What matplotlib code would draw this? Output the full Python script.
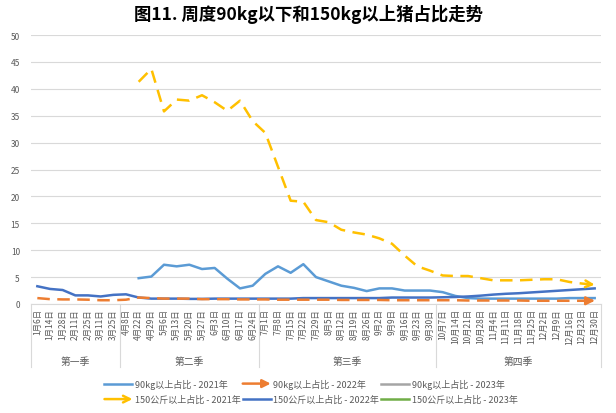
import numpy as np
import matplotlib
matplotlib.use("Agg")
import matplotlib.pyplot as plt
from matplotlib.lines import Line2D
from matplotlib.patches import FancyArrowPatch
from matplotlib.legend_handler import HandlerBase

plt.rcParams['font.family'] = ['Noto Sans CJK SC', 'DejaVu Sans']

# categories
dates = ['1月6日', '1月14日', '1月28日', '2月11日', '2月25日', '3月11日', '3月25日',
         '4月8日', '4月22日', '4月29日', '5月6日', '5月13日', '5月20日', '5月27日',
         '6月3日', '6月10日', '6月17日', '6月24日',
         '7月1日', '7月8日', '7月15日', '7月22日', '7月29日', '8月5日', '8月12日',
         '8月19日', '8月26日', '9月2日', '9月9日', '9月16日', '9月23日', '9月30日',
         '10月7日', '10月14日', '10月21日', '10月28日', '11月4日', '11月11日',
         '11月18日', '11月25日', '12月2日', '12月9日', '12月16日', '12月23日', '12月30日']
quarters = ['第一季', '第二季', '第三季', '第四季']
quarter_sizes = [7, 11, 14, 13]

nan = np.nan
# 90kg以上占比 - 2021年
w90_2021 = [nan, nan, nan, nan, nan, nan, nan, nan,
            4.8, 5.1, 7.3, 7.0, 7.3, 6.5, 6.7, 4.7, 2.9, 3.4,
            5.6, 7.0, 5.8, 7.4, 5.0, 4.2, 3.4, 3.0, 2.4, 2.9, 2.9, 2.5, 2.5, 2.5,
            2.2, 1.5, 1.1, 1.0, 1.0, 1.0, 1.0, 1.0, 1.0, 1.0, 1.1, 1.1, 1.1]
# 90kg以上占比 - 2022年
w90_2022 = [1.1, 0.9, 0.85, 0.85, 0.8, 0.7, 0.7, 0.8, 1.2, 1.1, 1.0, 1.0, 1.0, 0.9,
            0.9, 0.9, 0.85, 0.85, 0.85, 0.8, 0.8, 0.8, 0.8, 0.8, 0.75, 0.75, 0.75,
            0.75, 0.7, 0.7, 0.7, 0.7, 0.7, 0.7, 0.65, 0.65, 0.65, 0.65, 0.65,
            0.6, 0.6, 0.6, 0.6, 0.6, 0.6]
# 90kg以上占比 - 2023年 (no data)
w90_2023 = []
# 150公斤以上占比 - 2021年
w150_2021 = [nan, nan, nan, nan, nan, nan, nan, nan,
             41.3, 43.7, 35.8, 38.0, 37.8, 38.8, 37.5, 35.9, 37.8, 34.0,
             31.8, 25.5, 19.2, 19.0, 15.6, 15.2, 13.8, 13.3, 12.9, 12.2, 11.2, 9.0, 7.0, 6.2,
             5.3, 5.2, 5.2, 4.8, 4.4, 4.4, 4.4, 4.5, 4.6, 4.6, 4.1, 3.8, 3.6]
# 150公斤以上占比 - 2022年
w150_2022 = [3.3, 2.8, 2.6, 1.6, 1.6, 1.4, 1.7, 1.8, 1.2, 1.0, 1.0, 1.0, 0.95, 0.95,
             1.0, 1.0, 1.0, 1.0, 1.0, 1.0, 1.0, 1.1, 1.1, 1.1, 1.1, 1.1, 1.1, 1.1,
             1.2, 1.2, 1.2, 1.2, 1.25, 1.3, 1.4, 1.55, 1.75, 1.9, 2.0, 2.15, 2.3,
             2.45, 2.6, 2.75, 2.9]
# 150公斤以上占比 - 2023年 (no data)
w150_2023 = []

c_lblue, c_orange, c_gray = '#5B9BD5', '#ED7D31', '#A5A5A5'
c_yellow, c_dblue, c_green = '#FFC000', '#4472C4', '#70AD47'
lw = 1.8

fig = plt.figure(figsize=(6.16, 4.14), dpi=100)
ax = fig.add_axes([31 / 616, 1 - 305 / 414, 570 / 616, 269 / 414])

x = np.arange(len(dates))
ax.plot(x, w90_2021, color=c_lblue, lw=lw)
ax.plot(x, w150_2022, color=c_dblue, lw=lw)
ax.plot(x, w90_2022, color=c_orange, lw=lw, dashes=(5, 3))
ax.plot(x, w150_2021, color=c_yellow, lw=lw, dashes=(5, 3))
ax.plot(np.arange(len(w90_2023)), w90_2023, color=c_gray, lw=lw)
ax.plot(np.arange(len(w150_2023)), w150_2023, color=c_green, lw=lw)

# arrow heads at line ends
for ys, col, style in [(w90_2022, c_orange, '-|>'), (w150_2021, c_yellow, '->')]:
    x0 = x[-1] - 0.4
    y0 = ys[-1] - 0.4 * (ys[-1] - ys[-2])
    ax.annotate('', xy=(x[-1], ys[-1]), xytext=(x0, y0),
                arrowprops=dict(arrowstyle=style, color=col, lw=lw,
                                mutation_scale=12, shrinkA=0, shrinkB=0))

ax.set_xlim(-0.5, len(dates) - 0.5)
ax.set_ylim(0, 50)
ax.set_yticks(np.arange(0, 51, 5))
ax.grid(axis='y', color='#D9D9D9', lw=0.8)
ax.set_axisbelow(True)
for s in ['top', 'right', 'left']:
    ax.spines[s].set_visible(False)
ax.spines['bottom'].set_color('#D9D9D9')
ax.tick_params(axis='y', length=0, labelsize=6, labelcolor='#595959', pad=8)
ax.set_xticks(x)
ax.set_xticklabels(dates, rotation=90, fontsize=6, color='#595959')
ax.tick_params(axis='x', length=0, pad=3)

# quarter group labels and separators
trans = ax.get_xaxis_transform()
start = 0
bounds = [-0.5]
for q, n in zip(quarters, quarter_sizes):
    mid = start + (n - 1) / 2
    ax.text(mid, -0.211, q, transform=trans, ha='center', va='center',
            fontsize=7, color='#595959')
    start += n
    bounds.append(start - 0.5)
for b in bounds:
    ax.plot([b, b], [0, -0.234], transform=trans, color='#D9D9D9', lw=0.8,
            clip_on=False)

fig.text(0.5, 0.965, '图11. 周度90kg以下和150kg以上猪占比走势', ha='center',
         va='center', fontsize=12.5, fontweight='bold')


class ArrowHandler(HandlerBase):
    def create_artists(self, legend, orig_handle, xdescent, ydescent, width,
                       height, fontsize, trans):
        y = height / 2 - ydescent
        a = FancyArrowPatch((-xdescent, y), (width - xdescent, y),
                            arrowstyle=orig_handle.style, color=orig_handle.color,
                            lw=lw, mutation_scale=12, shrinkA=0, shrinkB=0)
        a.set_transform(trans)
        return [a]


class ArrowKey:
    def __init__(self, color, style):
        self.color = color
        self.style = style


handles = [Line2D([], [], color=c_lblue, lw=lw),
           ArrowKey(c_yellow, '->'),
           ArrowKey(c_orange, '-|>'),
           Line2D([], [], color=c_dblue, lw=lw),
           Line2D([], [], color=c_gray, lw=lw),
           Line2D([], [], color=c_green, lw=lw)]
labels = ['90kg以上占比 - 2021年', '150公斤以上占比 - 2021年',
          '90kg以上占比 - 2022年', '150公斤以上占比 - 2022年',
          '90kg以上占比 - 2023年', '150公斤以上占比 - 2023年']
fig.legend(handles, labels, ncol=3, loc='center', bbox_to_anchor=(0.505, 0.052),
           frameon=False, fontsize=6.5, handlelength=3.1, handletextpad=0.3,
           columnspacing=0.2, labelspacing=0.7, labelcolor='#595959',
           handler_map={ArrowKey: ArrowHandler()})

fig.savefig('out.png', dpi=100)
